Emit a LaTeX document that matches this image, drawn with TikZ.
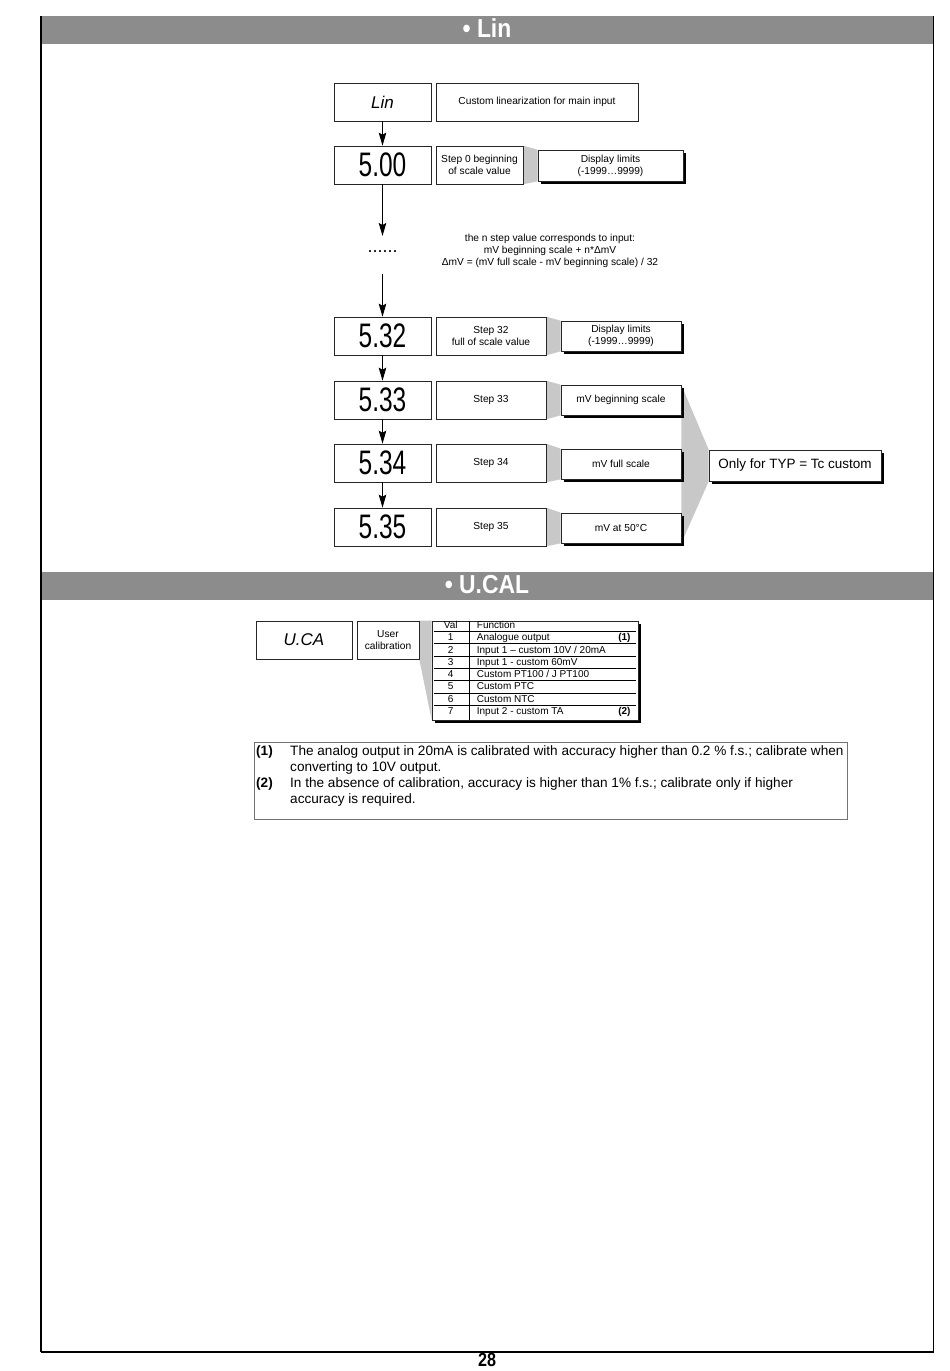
\documentclass[tikz,border=0pt]{standalone}
\usepackage{fontspec}
\setmainfont{Liberation Sans}
\usetikzlibrary{arrows.meta,shadows,backgrounds}
\definecolor{hdr}{HTML}{8C8C8C}
\definecolor{trap}{HTML}{C8C8C8}
\newcommand\fsz[2]{\fontsize{#1}{#2}\selectfont}
\newcommand\segtxt[1]{\scalebox{0.72}[1]{\fsz{34}{34}#1}}
\begin{document}
\begin{tikzpicture}[x=1pt,y=-1pt,
  box/.style={draw=black!85, line width=0.6pt, fill=white, inner sep=0pt, align=center},
  sbox/.style={box, drop shadow={shadow xshift=2.6pt,shadow yshift=-2.6pt,fill=black,opacity=1}},
  small/.style={font=\fsz{10.2}{12.2}},
  disp/.style={box, minimum width=97pt, minimum height=38pt},
  stepbox/.style={box, small, minimum width=110pt, minimum height=38pt},
  rbox/.style={sbox, small, minimum width=120pt, minimum height=30pt},
  arr/.style={-{Stealth[length=13pt,width=7.5pt,inset=2pt]}, line width=1pt},
  hdrtext/.style={text=white, font=\bfseries\fsz{26}{26}, inner sep=0pt},
  tabt/.style={font=\fsz{10}{11}, inner sep=0pt, text height=7.2pt, text depth=2pt},
  fnt/.style={font=\fsz{13.6}{13.6}, inner sep=0pt, anchor=base west},
  fnb/.style={font=\bfseries\fsz{13.6}{13.6}, inner sep=0pt, anchor=base west}
]
\useasboundingbox (0,0) rectangle (950,1371);
% page frame and headers
\fill[hdr] (42,16) rectangle (933,44);
\fill[hdr] (42,572) rectangle (933,600);
\draw[line width=1.8pt] (41,16) -- (41,1352);
\draw[line width=1.2pt] (41,1352) -- (933.5,1352);
\draw[line width=1.2pt] (933.5,16) -- (933.5,1352);
\node[hdrtext] (h1) at (487,28.5) {\scalebox{0.88}[1]{• Lin}};
\node[hdrtext] (h2) at (487,584.5) {\scalebox{0.88}[1]{• U.CAL}};
\node[font=\bfseries\fsz{19}{19}, inner sep=0pt] (pg) at (487,1360) {\scalebox{0.85}[1]{28}};

% Lin section
\node[disp, font=\itshape\fsz{17}{17}] (lin) at (382.5,102) {Lin};
\node[box, small, minimum width=202pt, minimum height=38pt] (cust) at (537,102) {Custom linearization for main input};
\node[disp] (d0) at (382.5,165) {\segtxt{5.00}};
\node[box, small, minimum width=87pt, minimum height=38pt] (st0) at (479.5,165) {Step 0 beginning\\of scale value};
\node[sbox, small, minimum width=145pt, minimum height=31pt] (dl0) at (610.5,165.5) {Display limits\\(-1999…9999)};

\coordinate (a1) at (382.5,236);
\node[font=\fsz{18}{18}, inner sep=0pt] (dots) at (382.5,252) {......};
\coordinate (a2) at (382.5,274);
\node[small, align=center, inner sep=0pt] (expl) at (550,251) {the n step value corresponds to input:\\mV beginning scale + n*ΔmV\\ΔmV = (mV full scale - mV beginning scale) / 32};

\node[disp] (d32) at (382.5,336) {\segtxt{5.32}};
\node[stepbox] (st32) at (491,336) {Step 32\\full of scale value};
\node[rbox] (dl32) at (621,336) {Display limits\\(-1999…9999)};

\node[disp] (d33) at (382.5,400) {\segtxt{5.33}};
\node[stepbox] (st33) at (491,400) {Step 33};
\node[rbox] (mvb) at (621,400) {mV beginning scale};

\node[disp] (d34) at (382.5,463) {\segtxt{5.34}};
\node[stepbox] (st34) at (491,463) {Step 34};
\node[rbox] (mvf) at (621,464) {mV full scale};

\node[disp] (d35) at (382.5,527) {\segtxt{5.35}};
\node[stepbox] (st35) at (491,527) {Step 35};
\node[rbox] (mv50) at (621,528) {mV at 50°C};

\node[sbox, minimum width=172pt, minimum height=31pt, font=\fsz{13.5}{14}] (only) at (795,465.5) {Only for TYP = Tc custom};

\draw[arr] (lin) -- (d0);
\draw[arr] (d0) -- (a1);
\draw[arr] (a2) -- (d32);
\draw[arr] (d32) -- (d33);
\draw[arr] (d33) -- (d34);
\draw[arr] (d34) -- (d35);

% U.CAL section
\node[box, minimum width=96pt, minimum height=38pt, font=\itshape\fsz{17}{17}] (uca) at (304,640) {U.CA};
\node[box, small, minimum width=62pt, minimum height=38pt] (usr) at (388,640) {User\\calibration};
\node[sbox, minimum width=206pt, minimum height=99pt] (tab) at (535,670.5) {};
\begin{scope}[shift={(tab.north west)}]
  \foreach \k in {1,...,7} \draw[line width=0.5pt] (2,{10.6+12.3*(\k-1)}) -- (204,{10.6+12.3*(\k-1)});
  \draw[line width=0.5pt] (38,0) -- (38,99);
  \node[tabt] (vh) at (19,5.3) {Val};
  \node[tabt, anchor=west] (fh) at (45,5.3) {Function};
  \node[tabt] (v1) at (19,17.4) {1};
  \node[tabt, anchor=west] (f1) at (45,17.4) {Analogue output};
  \node[tabt] (v2) at (19,29.7) {2};
  \node[tabt, anchor=west] (f2) at (45,29.7) {Input 1 – custom 10V / 20mA};
  \node[tabt] (v3) at (19,42) {3};
  \node[tabt, anchor=west] (f3) at (45,42) {Input 1 - custom 60mV};
  \node[tabt] (v4) at (19,54.3) {4};
  \node[tabt, anchor=west] (f4) at (45,54.3) {Custom PT100 / J PT100};
  \node[tabt] (v5) at (19,66.6) {5};
  \node[tabt, anchor=west] (f5) at (45,66.6) {Custom PTC};
  \node[tabt] (v6) at (19,78.9) {6};
  \node[tabt, anchor=west] (f6) at (45,78.9) {Custom NTC};
  \node[tabt] (v7) at (19,91.2) {7};
  \node[tabt, anchor=west] (f7) at (45,91.2) {Input 2 - custom TA};
  \node[tabt, anchor=east, font=\bfseries\fsz{10}{11}] (r1) at (199,17.4) {(1)};
  \node[tabt, anchor=east, font=\bfseries\fsz{10}{11}] (r2) at (199,91.2) {(2)};
\end{scope}

% footnotes
\node[draw=black!55, line width=0.5pt, minimum width=593pt, minimum height=77pt, inner sep=0pt] (fn) at (550.5,780.5) {};
\node[fnb] (n1) at (256,755.5) {(1)};
\node[fnt] (l1) at (290,755.5) {The analog output in 20mA is calibrated with accuracy higher than 0.2 \% f.s.; calibrate when};
\node[fnt] (l2) at (290,771.5) {converting to 10V output.};
\node[fnb] (n2) at (256,787.5) {(2)};
\node[fnt] (l3) at (290,787.5) {In the absence of calibration, accuracy is higher than 1\% f.s.; calibrate only if higher};
\node[fnt] (l4) at (290,803.5) {accuracy is required.};

% grey connecting wedges
\begin{scope}[on background layer]
  \fill[trap] (st0.north east) -- (dl0.north west) -- (dl0.south west) -- (st0.south east) -- cycle;
  \fill[trap] (st32.north east) -- (dl32.north west) -- (dl32.south west) -- (st32.south east) -- cycle;
  \fill[trap] (st33.north east) -- (mvb.north west) -- (mvb.south west) -- (st33.south east) -- cycle;
  \fill[trap] (st34.north east) -- (mvf.north west) -- (mvf.south west) -- (st34.south east) -- cycle;
  \fill[trap] (st35.north east) -- (mv50.north west) -- (mv50.south west) -- (st35.south east) -- cycle;
  \fill[trap] (mvb.north east) -- (only.north west) -- (only.south west) -- (mv50.south east) -- cycle;
  \fill[trap] (usr.north east) -- (tab.north west) -- (tab.south west) -- (usr.south east) -- cycle;
\end{scope}
\end{tikzpicture}
\end{document}
